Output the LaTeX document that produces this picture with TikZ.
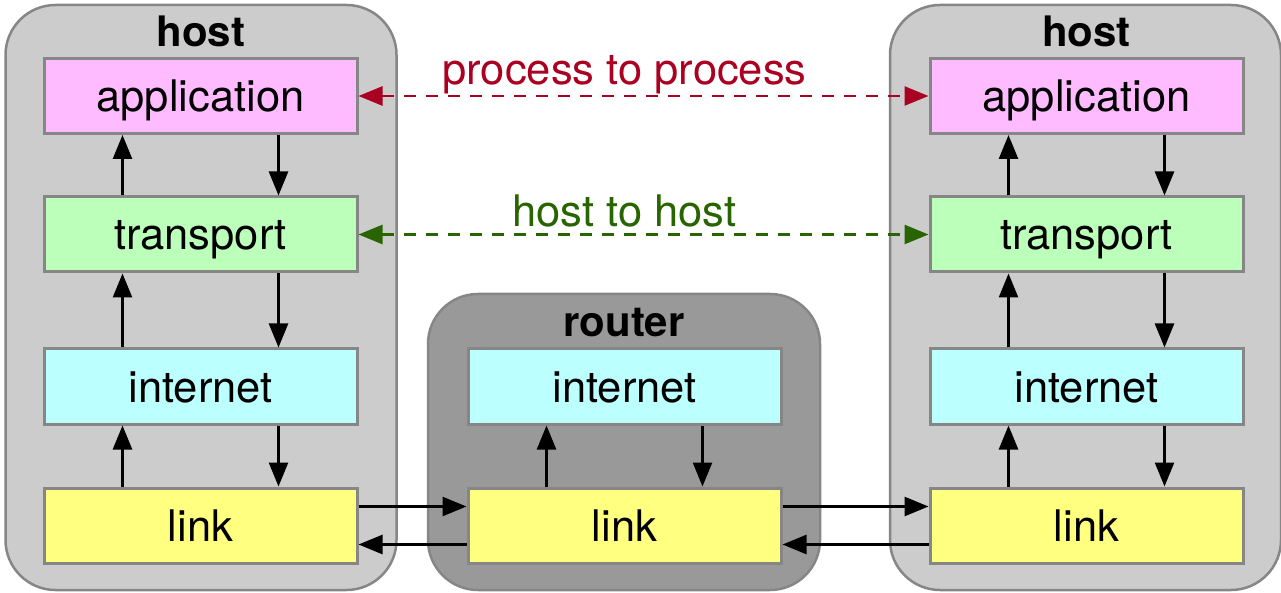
\documentclass[tikz,border=0pt]{standalone}
\usepackage{fontspec}
\setmainfont{TeX Gyre Heros}
\usepackage{xcolor}
\definecolor{appc}{HTML}{FFBBFF}
\definecolor{trc}{HTML}{BBFFBB}
\definecolor{netc}{HTML}{BBFFFF}
\definecolor{lnkc}{HTML}{FFFF80}
\definecolor{hostc}{HTML}{CCCCCC}
\definecolor{rtrc}{HTML}{999999}
\definecolor{edge}{HTML}{868686}
\definecolor{pcol}{HTML}{AA0022}
\definecolor{hcol}{HTML}{286400}
\usetikzlibrary{arrows.meta,positioning,calc}
\tikzset{
  >={Triangle[length=24pt,width=19pt]},
  layer/.style={draw=edge,line width=3pt,minimum width=313pt,minimum height=75pt,inner sep=0pt,
    font=\fontsize{43.5}{50}\selectfont,text height=34pt,text depth=3pt},
  appbox/.style={layer,fill=appc},
  trbox/.style={layer,fill=trc},
  netbox/.style={layer,fill=netc},
  lnkbox/.style={layer,fill=lnkc},
  hostbox/.style={draw=edge,line width=2.5pt,fill=hostc,rounded corners=50pt,minimum width=391pt,minimum height=585pt},
  rtrbox/.style={hostbox,fill=rtrc,minimum width=392pt,minimum height=296pt},
  ttl/.style={font=\fontsize{42}{48}\selectfont\bfseries,anchor=base,inner sep=0pt},
  lab/.style={font=\fontsize{43.5}{50}\selectfont,anchor=base,inner sep=0pt},
  arr/.style={->,line width=2.6pt},
  parr/.style={<->,draw=pcol,line width=2.6pt,dash pattern=on 12pt off 10pt},
  harr/.style={parr,draw=hcol},
}
\begin{document}
\begin{tikzpicture}[x=1pt,y=1pt]
\useasboundingbox (0,0) rectangle (1281,592);
% containers
\node[hostbox] (hostL) at (201,294.5) {};
\node[hostbox] (hostR) at (1085.5,294.5) {};
\node[rtrbox] (rtr) at (624,150) {};
\node[ttl] (hostL-t) at (201,545) {host};
\node[ttl] (hostR-t) at (1086.5,545) {host};
\node[ttl] (rtr-t) at (624,255) {router};

% protocol stacks of the two hosts
\foreach \s/\cx in {L/200.5,R/1086.5}{
  \node[appbox] (\s-app) at (\cx,496) {application};
  \node[trbox] (\s-tr) at (\cx,357.5) {transport};
  \node[netbox] (\s-net) at (\cx,205.5) {internet};
  \node[lnkbox] (\s-lnk) at (\cx,66.5) {link};
  \foreach \lo/\hi in {tr/app,net/tr,lnk/net}{
    \draw[arr] ([xshift=-78pt]\s-\lo.north) -- ([xshift=-78pt]\s-\hi.south);
    \draw[arr] ([xshift=78pt]\s-\hi.south) -- ([xshift=78pt]\s-\lo.north);
  }
}

% router stack
\node[netbox] (rt-net) at (624.5,205.5) {internet};
\node[lnkbox] (rt-lnk) at (624.5,66.5) {link};
\draw[arr] ([xshift=-78pt]rt-lnk.north) -- ([xshift=-78pt]rt-net.south);
\draw[arr] ([xshift=78pt]rt-net.south) -- ([xshift=78pt]rt-lnk.north);

% links between the machines
\draw[arr] ([yshift=19pt]L-lnk.east) -- ([yshift=19pt]rt-lnk.west);
\draw[arr] ([yshift=-19pt]rt-lnk.west) -- ([yshift=-19pt]L-lnk.east);
\draw[arr] ([yshift=19pt]rt-lnk.east) -- ([yshift=19pt]R-lnk.west);
\draw[arr] ([yshift=-19pt]R-lnk.west) -- ([yshift=-19pt]rt-lnk.east);

% logical end to end connections
\draw[parr] (L-app.east) -- (R-app.west);
\draw[harr] (L-tr.east) -- (R-tr.west);
\node[lab,text=pcol] (p2p) at (624.5,507) {process to process};
\node[lab,text=hcol] (h2h) at (624.5,365) {host to host};
\end{tikzpicture}
\end{document}
